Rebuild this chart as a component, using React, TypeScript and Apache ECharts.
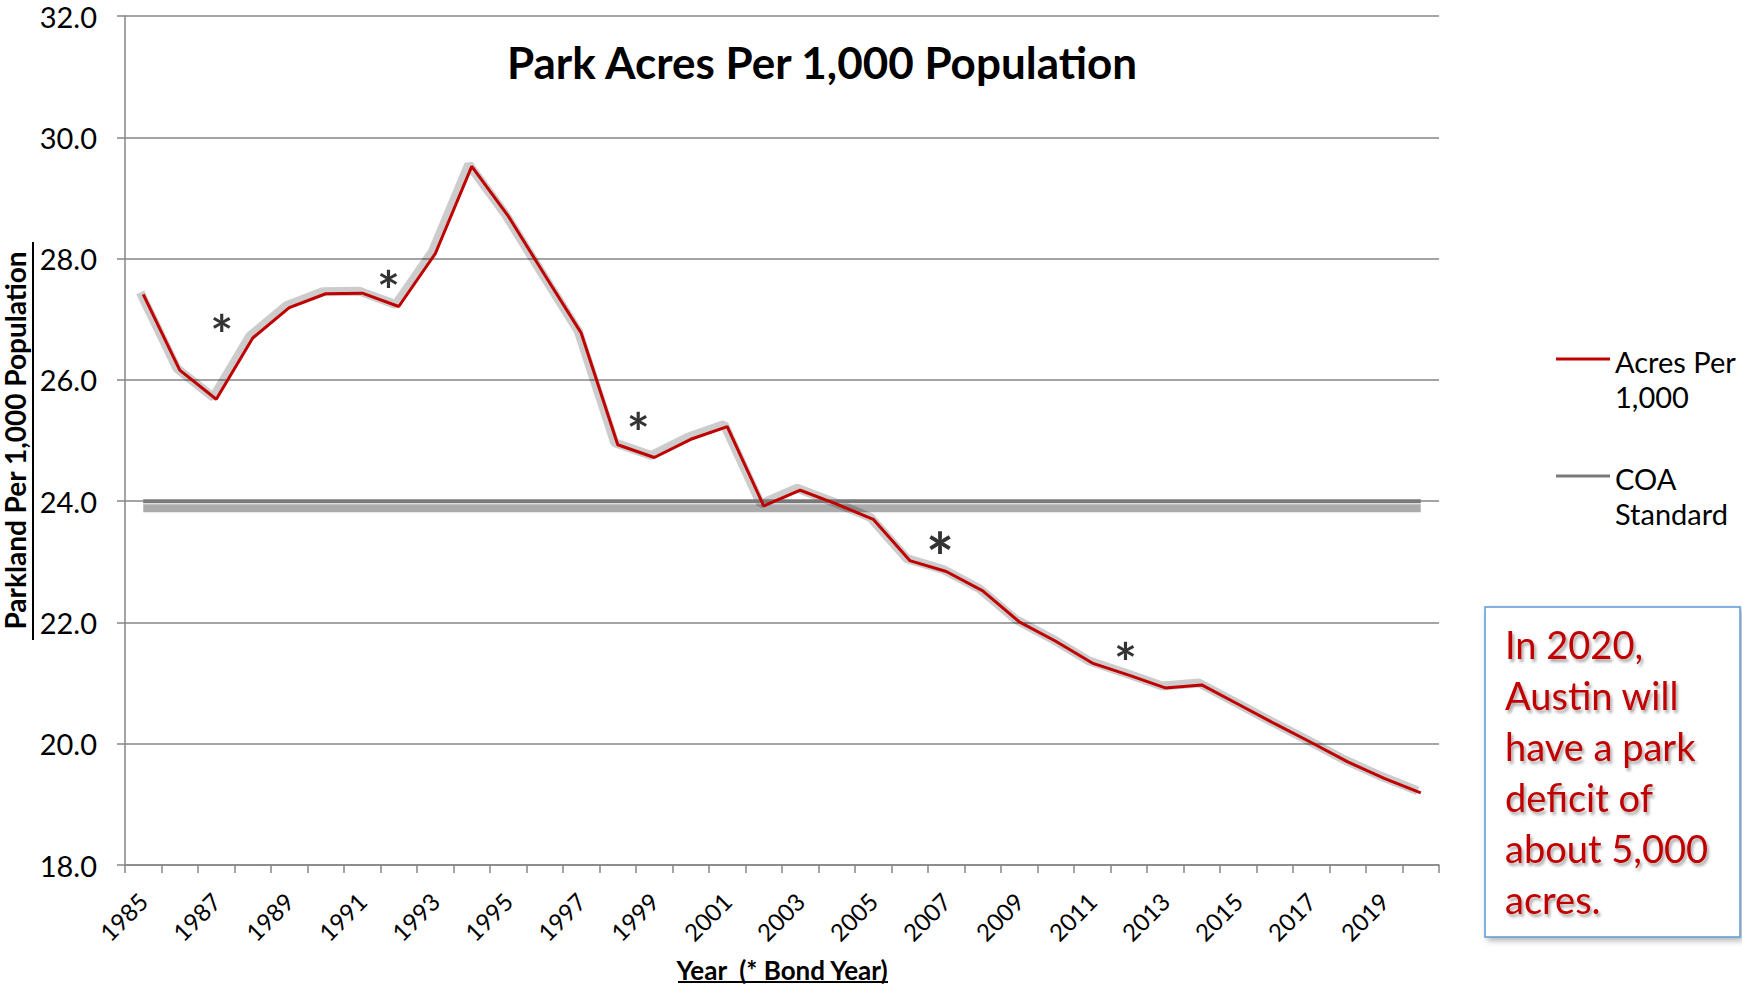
import React, { useEffect, useRef } from 'react';
import * as echarts from 'echarts';

const years = [
  '1985', '1986', '1987', '1988', '1989', '1990', '1991', '1992', '1993', '1994',
  '1995', '1996', '1997', '1998', '1999', '2000', '2001', '2002', '2003', '2004',
  '2005', '2006', '2007', '2008', '2009', '2010', '2011', '2012', '2013', '2014',
  '2015', '2016', '2017', '2018', '2019', '2020',
];

const acresPer1000 = [
  27.41, 26.16, 25.68, 26.69, 27.19, 27.42, 27.43, 27.21, 28.08, 29.52,
  28.7, 27.73, 26.77, 24.93, 24.72, 25.02, 25.23, 23.92, 24.18, 23.95,
  23.7, 23.02, 22.84, 22.52, 22.01, 21.69, 21.33, 21.13, 20.92, 20.97,
  20.65, 20.33, 20.02, 19.7, 19.43, 19.19,
];

const coaStandard = [
  24, 24, 24, 24, 24, 24, 24, 24, 24, 24,
  24, 24, 24, 24, 24, 24, 24, 24, 24, 24,
  24, 24, 24, 24, 24, 24, 24, 24, 24, 24,
  24, 24, 24, 24, 24, 24,
];

// bond-year asterisk markers (fractional year, value)
const bondMarkYears = [1987.15, 1991.72, 1998.56, 2006.83, 2011.91];
const bondMarkValues = [26.91, 27.64, 25.29, 23.3, 21.5];

const seriesNames = ['Acres Per 1,000', 'COA Standard'];
const calloutLines = ['In 2020,', 'Austin will', 'have a park', 'deficit of', 'about 5,000', 'acres.'];

const App: React.FC = () => {
  const ref = useRef<HTMLDivElement>(null);

  useEffect(() => {
    if (!ref.current) return;
    const chart = echarts.init(ref.current, undefined, { renderer: 'svg' });
    const gridColor = '#868686';

    const hiddenCat = (gridIndex: number) => ({
      type: 'category',
      gridIndex,
      data: years,
      boundaryGap: true,
      show: false,
    });
    const hiddenVal = (gridIndex: number) => ({
      type: 'value',
      gridIndex,
      min: 18,
      max: 32,
      interval: 2,
      show: false,
      splitLine: { show: false },
    });

    const option: any = {
      animation: false,
      backgroundColor: '#ffffff',
      textStyle: { fontFamily: 'Lato' },
      title: {
        text: 'Park Acres Per 1,000 Population',
        left: 817,
        top: 35,
        textAlign: 'center',
        textStyle: { fontFamily: 'Lato', fontWeight: 'bold', fontSize: 44, color: '#000' },
      },
      legend: {
        data: seriesNames,
        orient: 'vertical',
        left: 1556,
        top: 304,
        padding: 0,
        icon: 'rect',
        itemWidth: 54,
        itemHeight: 3,
        itemGap: 10,
        selectedMode: false,
        formatter: (name: string) => {
          const i = name.lastIndexOf(' ');
          return '{s| }\n{a|' + name.slice(0, i) + '}\n{a|' + name.slice(i + 1) + '}';
        },
        textStyle: {
          fontFamily: 'Lato',
          fontSize: 29,
          color: '#000',
          rich: {
            s: { fontSize: 29, lineHeight: 40, height: 40 },
            a: { fontFamily: 'Lato', fontSize: 29, lineHeight: 35, color: '#000' },
          },
        },
      },
      grid: [
        { left: 125, top: 16, right: 303, bottom: 120, outerBoundsMode: 'none', containLabel: false },
        { left: 125, top: 23, right: 303, bottom: 113, outerBoundsMode: 'none', containLabel: false },
        { left: 122, top: 14, right: 306, bottom: 122, outerBoundsMode: 'none', containLabel: false },
      ],
      xAxis: [
        {
          type: 'category',
          gridIndex: 0,
          data: years,
          boundaryGap: true,
          axisLine: { lineStyle: { color: gridColor, width: 1.5 } },
          axisTick: { show: true, interval: 0, length: 8, lineStyle: { color: gridColor, width: 1.5 } },
          axisLabel: {
            interval: 1,
            rotate: 45,
            margin: 32,
            fontFamily: 'Lato',
            fontSize: 24,
            color: '#000',
          },
          splitLine: { show: false },
          name: 'Year  (* Bond Year)',
          nameLocation: 'middle',
          nameGap: 92,
          nameTextStyle: { fontFamily: 'Lato', fontWeight: 'bold', fontSize: 26, color: '#000' },
        },
        {
          type: 'value',
          gridIndex: 0,
          min: 1984.5,
          max: 2020.5,
          show: false,
        },
        hiddenCat(1),
        hiddenCat(2),
      ],
      yAxis: [
        {
          type: 'value',
          gridIndex: 0,
          min: 18,
          max: 32,
          interval: 2,
          axisLine: { show: true, lineStyle: { color: gridColor, width: 1.5 } },
          axisTick: { show: true, length: 8, lineStyle: { color: gridColor, width: 1.5 } },
          axisLabel: {
            formatter: (v: number) => v.toFixed(1),
            margin: 28,
            fontFamily: 'Lato',
            fontSize: 29,
            color: '#000',
          },
          splitLine: { show: true, lineStyle: { color: gridColor, width: 1.5 } },
          name: 'Parkland Per 1,000 Population',
          nameLocation: 'middle',
          nameRotate: 90,
          nameGap: 92,
          nameTextStyle: { fontFamily: 'Lato', fontWeight: 'bold', fontSize: 28, color: '#000' },
        },
        hiddenVal(1),
        hiddenVal(2),
      ],
      series: [
        {
          name: 'COA shadow',
          type: 'line',
          xAxisIndex: 2,
          yAxisIndex: 1,
          data: coaStandard,
          symbol: 'none',
          silent: true,
          z: 1,
          lineStyle: { color: 'rgba(0,0,0,0.33)', width: 8 },
        },
        {
          name: 'Acres shadow',
          type: 'line',
          xAxisIndex: 3,
          yAxisIndex: 2,
          data: acresPer1000,
          symbol: 'none',
          silent: true,
          z: 1,
          lineStyle: { color: 'rgba(0,0,0,0.2)', width: 9 },
        },
        {
          name: seriesNames[1],
          type: 'line',
          data: coaStandard,
          symbol: 'none',
          z: 3,
          color: '#7A7A7A',
          lineStyle: { color: '#7A7A7A', width: 4 },
        },
        {
          name: seriesNames[0],
          type: 'line',
          data: acresPer1000,
          symbol: 'none',
          z: 4,
          color: '#C00000',
          lineStyle: { color: '#C00000', width: 3 },
        },
        {
          name: 'Bond Year',
          type: 'scatter',
          xAxisIndex: 1,
          data: bondMarkYears.map((y, i) => ({
            value: [y, bondMarkValues[i]],
            label: i === 3 ? { fontSize: 66, offset: [0, 13] } : undefined,
          })),
          symbolSize: 1,
          itemStyle: { color: 'rgba(0,0,0,0)' },
          silent: true,
          z: 5,
          label: {
            show: true,
            formatter: '*',
            position: 'inside',
            fontFamily: 'Lato',
            fontWeight: 'bold',
            fontSize: 54,
            offset: [0, 9],
            color: '#000',
          },
        },
      ],
      graphic: [
        {
          type: 'line',
          shape: { x1: 33, y1: 242, x2: 33, y2: 640 },
          style: { stroke: '#000', lineWidth: 2 },
        },
        {
          type: 'line',
          shape: { x1: 678, y1: 982, x2: 888, y2: 982 },
          style: { stroke: '#000', lineWidth: 2 },
        },
        {
          type: 'rect',
          shape: { x: 1485, y: 607, width: 255, height: 330 },
          style: {
            fill: '#ffffff',
            stroke: '#5B9BD5',
            lineWidth: 1.5,
            shadowBlur: 6,
            shadowOffsetX: 3,
            shadowOffsetY: 3,
            shadowColor: 'rgba(0,0,0,0.3)',
          },
          z: 10,
        },
        {
          type: 'text',
          x: 1505,
          y: 618,
          z: 11,
          style: {
            text: calloutLines.join('\n'),
            font: '38px Lato',
            lineHeight: 51,
            fill: '#C00000',
            textShadowColor: 'rgba(0,0,0,0.35)',
            textShadowBlur: 3,
            textShadowOffsetX: 2,
            textShadowOffsetY: 3,
            verticalAlign: 'top',
          },
        },
      ],
    };

    chart.setOption(option);
    return () => chart.dispose();
  }, []);

  return (
    <div
      ref={ref}
      style={{ position: 'fixed', left: 0, top: 0, width: 1742, height: 985, background: '#fff' }}
    />
  );
};

export default App;
